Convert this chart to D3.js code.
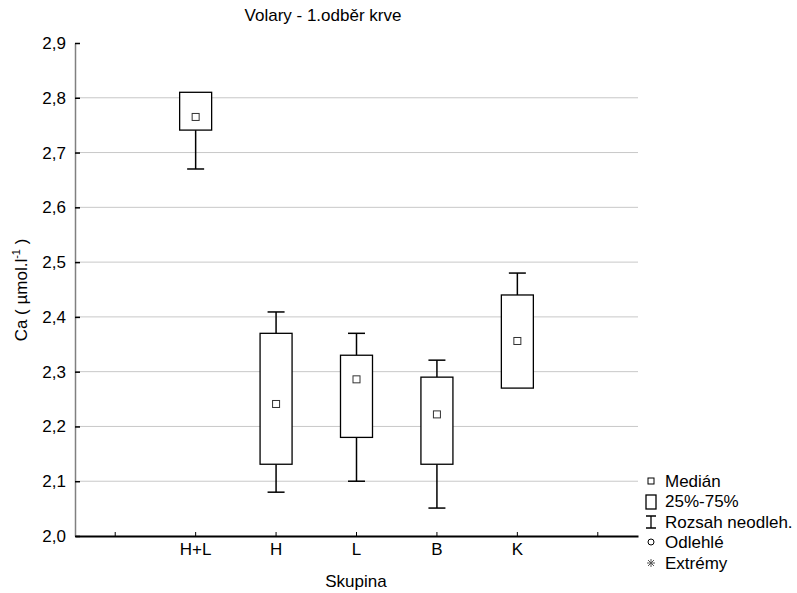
<!DOCTYPE html>
<html lang="cs">
<head>
<meta charset="utf-8" />
<title>Volary - 1.odběr krve</title>
<style>
  body { margin: 0; background: #fff; }
  svg { display: block; font-family: "Liberation Sans", Arial, sans-serif; }
  .axis text { font-size: 17px; fill: #000; font-family: "Liberation Sans", Arial, sans-serif; }
  .grid line { stroke: #c8c8c8; stroke-width: 1; }
</style>
</head>
<body>
<div id="chart"></div>
<script src="https://d3js.org/d3.v7.min.js"></script>
<script>
// data
var groups    = ["H+L", "H", "L", "B", "K"];
var medians   = [2.765, 2.241, 2.286, 2.222, 2.356];
var q25       = [2.741, 2.131, 2.180, 2.131, 2.270];
var q75       = [2.810, 2.370, 2.330, 2.290, 2.440];
var minNonOut = [2.670, 2.080, 2.100, 2.051, 2.270];
var maxNonOut = [2.810, 2.409, 2.370, 2.321, 2.480];
var yTicks    = [2.0, 2.1, 2.2, 2.3, 2.4, 2.5, 2.6, 2.7, 2.8, 2.9];
var legendItems = ["Medián", "25%-75%", "Rozsah neodleh.", "Odlehlé", "Extrémy"];

var width = 797, height = 593;
var plot = { left: 75, right: 638, top: 43, bottom: 536 };

var svg = d3.select("#chart").append("svg")
    .attr("width", width)
    .attr("height", height);

// empty slot on each side of the groups
var slots = ["_a"].concat(groups, ["_b"]);
var x = d3.scaleBand().domain(slots).range([plot.left, plot.right]).padding(0);
var y = d3.scaleLinear().domain([2.0, 2.9]).range([plot.bottom, plot.top]);

var fmt = function(d) { return d3.format(".1f")(d).replace(".", ","); };

// grid
svg.append("g").attr("class", "grid")
  .selectAll("line")
  .data(yTicks.filter(function(d) { return d > 2.0 && d < 2.9; }))
  .enter().append("line")
  .attr("x1", plot.left).attr("x2", plot.right)
  .attr("y1", function(d) { return y(d); })
  .attr("y2", function(d) { return y(d); });

// y axis
var yAxis = svg.append("g").attr("class", "axis")
  .attr("transform", "translate(" + plot.left + ",0)")
  .call(d3.axisLeft(y).tickValues(yTicks).tickFormat(fmt)
        .tickSizeInner(-5).tickSizeOuter(0).tickPadding(9));
yAxis.select(".domain").attr("stroke", "#808080").attr("stroke-width", 1.5);
yAxis.selectAll(".tick line").attr("stroke", "#000").attr("stroke-width", 1.5);

// x axis
var xAxis = svg.append("g").attr("class", "axis")
  .attr("transform", "translate(0," + plot.bottom + ")")
  .call(d3.axisBottom(x).tickFormat(function(d) { return d.charAt(0) === "_" ? "" : d; })
        .tickSizeInner(-4).tickSizeOuter(0).tickPadding(7));
xAxis.select(".domain").attr("stroke", "#000").attr("stroke-width", 2);
xAxis.selectAll(".tick line").attr("stroke", "#000").attr("stroke-width", 1);

// boxes
var boxW = 32, capW = 17, medW = 7;
var data = groups.map(function(g, i) {
  return { g: g, med: medians[i], lo: q25[i], hi: q75[i], min: minNonOut[i], max: maxNonOut[i] };
});

var box = svg.append("g").selectAll("g")
  .data(data)
  .enter().append("g")
  .attr("transform", function(d) { return "translate(" + (x(d.g) + x.bandwidth() / 2) + ",0)"; });

box.append("line")
  .attr("y1", function(d) { return y(d.max); })
  .attr("y2", function(d) { return y(d.hi); })
  .attr("stroke", "#000").attr("stroke-width", 1.5);
box.append("line")
  .attr("y1", function(d) { return y(d.lo); })
  .attr("y2", function(d) { return y(d.min); })
  .attr("stroke", "#000").attr("stroke-width", 1.5);
box.filter(function(d) { return d.max > d.hi; }).append("line")
  .attr("x1", -capW / 2).attr("x2", capW / 2)
  .attr("y1", function(d) { return y(d.max); })
  .attr("y2", function(d) { return y(d.max); })
  .attr("stroke", "#000").attr("stroke-width", 1.5);
box.filter(function(d) { return d.min < d.lo; }).append("line")
  .attr("x1", -capW / 2).attr("x2", capW / 2)
  .attr("y1", function(d) { return y(d.min); })
  .attr("y2", function(d) { return y(d.min); })
  .attr("stroke", "#000").attr("stroke-width", 1.5);
box.append("rect")
  .attr("x", -boxW / 2).attr("width", boxW)
  .attr("y", function(d) { return y(d.hi); })
  .attr("height", function(d) { return y(d.lo) - y(d.hi); })
  .attr("fill", "#fff").attr("stroke", "#000").attr("stroke-width", 1.3);
box.append("rect")
  .attr("x", -medW / 2).attr("width", medW)
  .attr("y", function(d) { return y(d.med) - medW / 2; })
  .attr("height", medW)
  .attr("fill", "#fff").attr("stroke", "#333").attr("stroke-width", 1);

// title and axis titles
svg.append("text")
  .attr("x", 323).attr("y", 21)
  .attr("text-anchor", "middle")
  .style("font-size", "17px")
  .text("Volary - 1.odběr krve");

svg.append("text")
  .attr("x", 356).attr("y", 587)
  .attr("text-anchor", "middle")
  .style("font-size", "17px")
  .text("Skupina");

var yl = svg.append("text")
  .attr("transform", "translate(27,290) rotate(-90)")
  .attr("text-anchor", "middle")
  .style("font-size", "17px");
yl.append("tspan").text("Ca ( µmol.l");
yl.append("tspan").attr("dy", -7).style("font-size", "11px").text("-1");
yl.append("tspan").attr("dy", 7).text(" )");

// legend
var lg = svg.append("g").attr("transform", "translate(651,0)");
var ly = [481, 501, 522, 542, 563];
lg.selectAll("text").data(legendItems).enter().append("text")
  .attr("x", 14).attr("y", function(d, i) { return ly[i] + 6; })
  .style("font-size", "17px")
  .text(function(d) { return d; });
lg.append("rect").attr("x", -3).attr("y", ly[0] - 3).attr("width", 6).attr("height", 6)
  .attr("fill", "#fff").attr("stroke", "#000");
lg.append("rect").attr("x", -5).attr("y", ly[1] - 6).attr("width", 10).attr("height", 14)
  .attr("fill", "#fff").attr("stroke", "#000").attr("stroke-width", 1.3);
lg.append("path").attr("d", "M-5," + (ly[2] - 6) + "h10M0," + (ly[2] - 6) + "v12M-5," + (ly[2] + 6) + "h10")
  .attr("stroke", "#000").attr("stroke-width", 1.3).attr("fill", "none");
lg.append("circle").attr("cx", 0).attr("cy", ly[3]).attr("r", 3)
  .attr("fill", "#fff").attr("stroke", "#000");
lg.append("path").attr("d", "M-4,0h8M0,-4v8M-3,-3l6,6M-3,3l6,-6")
  .attr("transform", "translate(0," + ly[4] + ")")
  .attr("stroke", "#555").attr("stroke-width", 1).attr("fill", "none");
</script>
</body>
</html>
